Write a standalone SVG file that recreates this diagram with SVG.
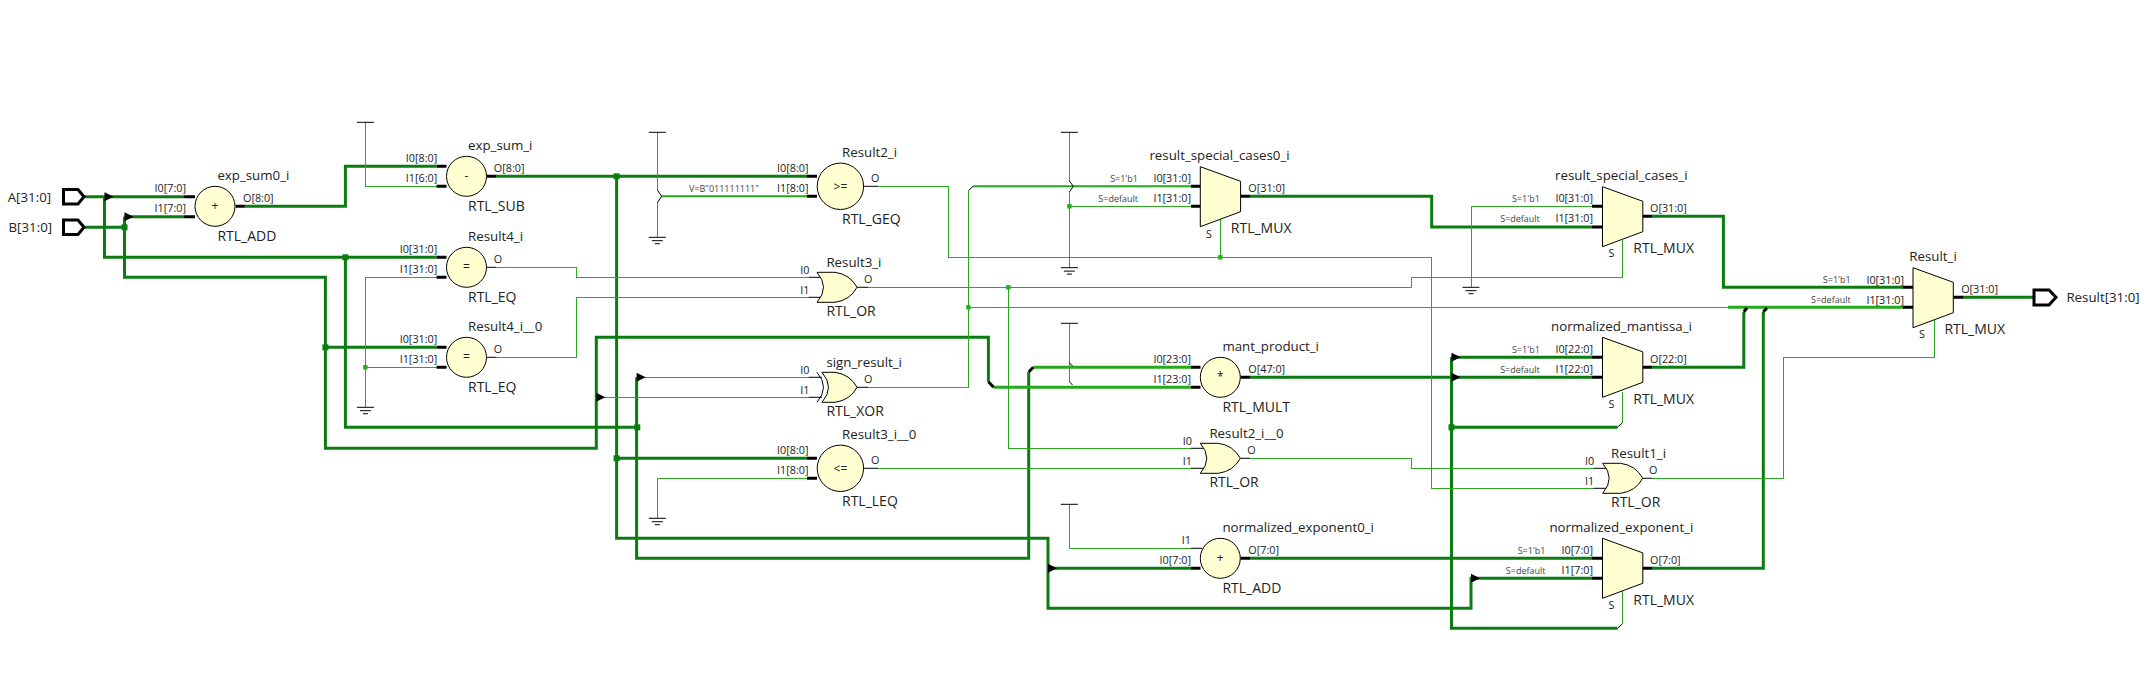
<svg xmlns="http://www.w3.org/2000/svg" width="2150" height="675" viewBox="0 0 2150 675">
<style>
text{font-family:"Open Sans","Noto Sans","Liberation Sans",sans-serif;fill:#222}
.n{font-size:13.3px}
.t{font-size:14px}
.p{font-size:10.8px}
.s{font-size:9px;fill:#444}
.e{font-size:12px;text-anchor:middle}
.r{text-anchor:end}
.w3,.w2,.w2b,.w1,.st,.st1,.tick{fill:none}
.w3{stroke:#0b7d10;stroke-width:3}
.w2{stroke:#25a81a;stroke-width:3}
.w2b{stroke:#25a81a;stroke-width:2}
.w1{stroke:#2ca820;stroke-width:1;shape-rendering:crispEdges}
.st{stroke:#000;stroke-width:3}
.st1{stroke:#000;stroke-width:1}
.tick{stroke:#000;stroke-width:1}
.b{fill:#ffffd2;stroke:#000;stroke-width:1}
.j3{fill:#0b7d10}
.j1{fill:#22b014}
.port{fill:#fff;stroke:#000;stroke-width:3}
</style>
<defs>
<path id="mux" d="M0 0L40.3 14.6V45L0 60Z"/>
<path id="or" d="M0 0H18Q33 2 40 15Q33 28 18 30H0Q13 15 0 0Z"/>
<path id="xor" d="M5 0H18Q33 2 40 15Q33 28 18 30H5Q18 15 5 0Z"/>
<path id="xorb" d="M0 0Q13 15 0 30" fill="none" stroke="#000"/>
<path id="arr" d="M0 -4.5L9 0L0 4.5Z" fill="#000"/>
<rect id="jt" x="-3" y="-3" width="6" height="6"/>
<rect id="jn" x="-2.2" y="-2.2" width="4.4" height="4.4"/>
<path id="vcc" d="M-8.5 0H8.5" stroke="#000" fill="none"/>
<path id="gnd" d="M-8.5 0H8.5M-5.5 3.4H5.5M-2.5 6.4H2.5" stroke="#000" fill="none"/>
</defs>

<g id="connectors">
<!-- thick dark nets -->
<path class="w3" d="M84 196.7H184M104.5 196.7V257.3H436.6M345.4 257.3V427.3H637.3M636.6 377.3V558.3H1028.7V372"/>
<path class="w3" d="M84 227.3H124.5M124.5 216.7H184M124.5 216.7V277.3H325.4V448.3H596.3V337.3H988.4V381.7M325.4 347.3H436.6"/>
<path class="w3" d="M244.8 206.3H345.4V166.3H436.6"/>
<path class="w3" d="M496 176.3H807M616.6 176.3V538.3H1048V608.3H1471V578.3H1592M616.6 458.3H807M1048 568.3H1191"/>
<path class="w3" d="M1250 196.3H1431.7V227H1592"/>
<path class="w3" d="M1651.9 216.3H1723.4V287.3H1902.6"/>
<path class="w3" d="M1250 377.3H1592M1451.5 357.3H1592M1451.5 357.3V628.3H1617.4M1451.5 427.3H1617.4"/>
<path class="w3" d="M1250 558.3H1592"/>
<path class="w3" d="M1651.8 367.3H1743.8V311.7M1651.8 568.3H1763.3V311.7"/>
<path class="w3" d="M1963.7 297.3H2033.8"/>
<!-- medium nets -->
<path class="w2b" d="M661.5 196.3H807"/>
<path class="w2b" d="M973 186.3H1191"/>
<path class="w2" d="M993.6 387.3H1191"/>
<path class="w2" d="M1033.3 367.3H1191"/>
<path class="w2" d="M1728 307.3H1902.6"/>
<!-- thin nets -->
<path class="w1" d="M365.4 122.3V186.3H436.6"/>
<path class="w1" d="M436.6 277.3H365.4V407.3M365.4 367.3H436.6"/>
<path class="w1" d="M657.3 132.3V190M657.3 203V237.3"/>
<path class="w1" d="M496 267.3H576.3V277.3H808.4"/>
<path class="w1" d="M496 357.3H576.3V297.3H808.4"/>
<path class="w1" d="M878 186.3H948.4V257.3H1431.7V488.3H1593.8"/>
<path class="w1" d="M1220.3 219.3V257.3"/>
<path class="w1" d="M868 287.3H1411.4V277.3H1622.6V240"/>
<path class="w1" d="M1008.3 287.3V448.3H1191"/>
<path class="w1" d="M636.6 377.3H808.4"/>
<path class="w1" d="M596.3 397.3H808.4"/>
<path class="w1" d="M868 387.3H968.4V190.7"/>
<path class="w1" d="M968.4 307.3H1728"/>
<path class="w1" d="M1069.4 132.3V181M1069.4 192V267.7M1069.4 206.3H1191"/>
<path class="w1" d="M1069.4 323.3V382"/>
<path class="w1" d="M657.3 518.3V478.3H807"/>
<path class="w1" d="M878 468.3H1191"/>
<path class="w1" d="M1250 458.3H1411.4V468.3H1593.8"/>
<path class="w1" d="M1069.4 504.3V548.3H1191"/>
<path class="w1" d="M1471 287.3V206.3H1592"/>
<path class="w1" d="M1652 478.3H1783.4V357.3H1934.6V320"/>
<path class="w1" d="M1622.3 423V391.7M1622.3 624V590.7"/>
<!-- chamfer ticks and crossing chevrons -->
<path class="st" d="M988.4 381.7L993.6 387.3M1028.7 372L1033.3 367.3M1743.8 311.7L1747 308M1763.3 311.7L1767 308"/>
<path class="tick" d="M657.3 190L661.7 196.3L657.3 203M1069.4 181L1073.3 186.3L1069.4 192M1069.4 362.7L1072.5 366M1069.4 381.7L1072.5 385M968.4 190.7L973 186.3M1617.3 427.3L1622.3 423M1617.3 628.3L1622.3 624"/>
<!-- branch junctions -->
<use href="#jt" class="j3" x="345.4" y="257.3"/>
<use href="#jt" class="j3" x="124.5" y="227.3"/>
<use href="#jt" class="j3" x="325.4" y="347.3"/>
<use href="#jt" class="j3" x="616.6" y="176.3"/>
<use href="#jt" class="j3" x="616.6" y="458.3"/>
<use href="#jt" class="j3" x="637.3" y="427.3"/>
<use href="#jt" class="j3" x="1451.5" y="427.3"/>
<use href="#jn" class="j1" x="365.4" y="367.3"/>
<use href="#jn" class="j1" x="968.4" y="307.3"/>
<use href="#jn" class="j1" x="1008.3" y="287.3"/>
<use href="#jn" class="j1" x="1069.4" y="206.3"/>
<use href="#jn" class="j1" x="1220.3" y="257.3"/>
<!-- arrow markers -->
<use href="#arr" x="104.5" y="196.7"/>
<use href="#arr" x="124.5" y="216.7"/>
<use href="#arr" x="596.3" y="397.3"/>
<use href="#arr" x="636.6" y="377.3"/>
<use href="#arr" x="1048" y="568.3"/>
<use href="#arr" x="1451.5" y="357.3"/>
<use href="#arr" x="1451.5" y="377.3"/>
<use href="#arr" x="1471" y="578.3"/>
</g>

<g id="port_A"><path class="port" d="M63.5 189.5H78L84 196.7L78 204H63.5Z"/><text class="n" x="7.7" y="201.5">A[31:0]</text></g>
<g id="port_B"><path class="port" d="M63.5 220H78L84 227.3L78 234.5H63.5Z"/><text class="n" x="8.5" y="232">B[31:0]</text></g>
<g id="port_Result"><path class="port" d="M2034 290H2049L2056 297.3L2049 305H2034Z"/><text class="n" x="2066.4" y="302">Result[31:0]</text></g>

<g id="pwr_1"><use href="#vcc" x="365.4" y="122.3"/></g>
<g id="gnd_1"><use href="#gnd" x="365.4" y="407.3"/></g>
<g id="pwr_2"><use href="#vcc" x="657.3" y="132.3"/></g>
<g id="gnd_2"><use href="#gnd" x="657.3" y="237.3"/></g>
<g id="pwr_3"><use href="#vcc" x="1069.4" y="132.3"/></g>
<g id="gnd_3"><use href="#gnd" x="1069.4" y="267.7"/></g>
<g id="pwr_4"><use href="#vcc" x="1069.4" y="323.3"/></g>
<g id="pwr_5"><use href="#vcc" x="1069.4" y="504.3"/></g>
<g id="gnd_4"><use href="#gnd" x="657.3" y="518.3"/></g>
<g id="gnd_5"><use href="#gnd" x="1471" y="287.3"/></g>

<g id="exp_sum0_i">
<path class="st" d="M184 196.7H195M184 216.7H195M235.6 206.3H244.8"/>
<circle class="b" cx="215" cy="206.3" r="20"/>
<text class="e" x="215" y="210">+</text>
<text class="n" x="217.4" y="180">exp_sum0_i</text><text class="t" x="217.4" y="240.5">RTL_ADD</text>
<text class="p r" x="186" y="192">I0[7:0]</text><text class="p r" x="186" y="212">I1[7:0]</text><text class="p" x="243" y="202">O[8:0]</text>
</g>
<g id="exp_sum_i">
<path class="st" d="M436.6 166.3H446.5M436.6 186.3H446.5M486.8 176.3H496"/>
<circle class="b" cx="466.5" cy="176.3" r="20"/>
<text class="e" x="466.5" y="180">-</text>
<text class="n" x="468" y="150">exp_sum_i</text><text class="t" x="468" y="211">RTL_SUB</text>
<text class="p r" x="437.3" y="162">I0[8:0]</text><text class="p r" x="437.3" y="182">I1[6:0]</text><text class="p" x="493.8" y="172">O[8:0]</text>
</g>
<g id="Result4_i">
<path class="st" d="M436.6 257.3H446.5M436.6 277.3H446.5"/><path class="st1" d="M486.8 267.3H496"/>
<circle class="b" cx="466.5" cy="267.3" r="20"/>
<text class="e" x="466.5" y="271">=</text>
<text class="n" x="468" y="240.5">Result4_i</text><text class="t" x="468" y="302">RTL_EQ</text>
<text class="p r" x="437.3" y="253">I0[31:0]</text><text class="p r" x="437.3" y="273">I1[31:0]</text><text class="p" x="493.8" y="263">O</text>
</g>
<g id="Result4_i__0">
<path class="st" d="M436.6 347.3H446.5M436.6 367.3H446.5"/><path class="st1" d="M486.8 357.3H496"/>
<circle class="b" cx="466.5" cy="357.3" r="20"/>
<text class="e" x="466.5" y="361">=</text>
<text class="n" x="468" y="330.5">Result4_i__0</text><text class="t" x="468" y="392">RTL_EQ</text>
<text class="p r" x="437.3" y="343">I0[31:0]</text><text class="p r" x="437.3" y="363">I1[31:0]</text><text class="p" x="493.8" y="353">O</text>
</g>
<g id="Result2_i">
<path class="st" d="M807 176.3H817M807 196.3H817"/><path class="st1" d="M863 186.3H878"/>
<circle class="b" cx="840.4" cy="186.3" r="23.2"/>
<text class="e" x="840.4" y="190.5">&gt;=</text>
<text class="n" x="842" y="157">Result2_i</text><text class="t" x="842" y="224">RTL_GEQ</text>
<text class="p r" x="808.5" y="172">I0[8:0]</text><text class="p r" x="808.5" y="192">I1[8:0]</text><text class="p" x="870.9" y="182">O</text>
<text class="s" x="689" y="191.5">V=B"011111111"</text>
</g>
<g id="Result3_i">
<path class="st1" d="M808.4 277.3H822M808.4 297.3H822M857 287.3H868"/>
<use href="#or" class="b" x="817" y="272.3"/>
<text class="n" x="826.4" y="267">Result3_i</text><text class="t" x="826.4" y="316">RTL_OR</text>
<text class="p r" x="809.5" y="273.5">I0</text><text class="p r" x="809.5" y="293.5">I1</text><text class="p" x="863.9" y="283">O</text>
</g>
<g id="sign_result_i">
<path class="st1" d="M808.4 377.3H822M808.4 397.3H822M857 387.3H868"/>
<use href="#xor" class="b" x="817" y="372.3"/><use href="#xorb" x="817" y="372.3"/>
<text class="n" x="826.4" y="367">sign_result_i</text><text class="t" x="826.4" y="416">RTL_XOR</text>
<text class="p r" x="809.5" y="373.5">I0</text><text class="p r" x="809.5" y="393.5">I1</text><text class="p" x="863.9" y="383">O</text>
</g>
<g id="Result3_i__0">
<path class="st" d="M807 458.3H817M807 478.3H817"/><path class="st1" d="M863 468.3H878"/>
<circle class="b" cx="840.4" cy="468.3" r="23.2"/>
<text class="e" x="840.4" y="472.5">&lt;=</text>
<text class="n" x="842" y="438.5">Result3_i__0</text><text class="t" x="842" y="506">RTL_LEQ</text>
<text class="p r" x="808.5" y="454">I0[8:0]</text><text class="p r" x="808.5" y="474">I1[8:0]</text><text class="p" x="870.9" y="464">O</text>
</g>
<g id="result_special_cases0_i">
<path class="st" d="M1191 186.3H1200.5M1191 206.3H1200.5M1240.5 196.3H1250"/>
<use href="#mux" class="b" x="1200.3" y="166.7"/>
<text class="n" x="1149.4" y="160">result_special_cases0_i</text><text class="t" x="1230.8" y="233">RTL_MUX</text>
<text class="p r" x="1191" y="182.3">I0[31:0]</text><text class="p r" x="1191" y="202.3">I1[31:0]</text><text class="p" x="1248.3" y="192">O[31:0]</text>
<text class="p" x="1206" y="237.5">S</text>
<text class="s r" x="1138" y="182">S=1'b1</text><text class="s r" x="1138" y="202">S=default</text>
</g>
<g id="mant_product_i">
<path class="st" d="M1191 367.3H1200.5M1191 387.3H1200.5M1240.5 377.3H1250"/>
<circle class="b" cx="1220.3" cy="377.3" r="20"/>
<text class="e" x="1220.3" y="381">*</text>
<text class="n" x="1222.4" y="351">mant_product_i</text><text class="t" x="1222.4" y="412">RTL_MULT</text>
<text class="p r" x="1191" y="363">I0[23:0]</text><text class="p r" x="1191" y="383">I1[23:0]</text><text class="p" x="1248.3" y="373">O[47:0]</text>
</g>
<g id="Result2_i__0">
<path class="st1" d="M1191 448.3H1205M1191 468.3H1205M1240.3 458.3H1250"/>
<use href="#or" class="b" x="1200.3" y="443.3"/>
<text class="n" x="1209.4" y="438">Result2_i__0</text><text class="t" x="1209.4" y="487">RTL_OR</text>
<text class="p r" x="1192" y="444.5">I0</text><text class="p r" x="1192" y="464.5">I1</text><text class="p" x="1247.3" y="454">O</text>
</g>
<g id="normalized_exponent0_i">
<path class="st1" d="M1191 548.3H1202"/><path class="st" d="M1191 568.3H1200.5M1240.5 558.3H1250"/>
<circle class="b" cx="1220.3" cy="558.3" r="20"/>
<text class="e" x="1220.3" y="562">+</text>
<text class="n" x="1222.4" y="532">normalized_exponent0_i</text><text class="t" x="1222.4" y="592.5">RTL_ADD</text>
<text class="p r" x="1191" y="544">I1</text><text class="p r" x="1191" y="564">I0[7:0]</text><text class="p" x="1248.3" y="554">O[7:0]</text>
</g>
<g id="result_special_cases_i">
<path class="st" d="M1592 206.3H1602.7M1592 227H1602.7M1642.8 216.3H1652"/>
<use href="#mux" class="b" x="1602.5" y="186.7"/>
<text class="n" x="1555" y="180">result_special_cases_i</text><text class="t" x="1633.3" y="253">RTL_MUX</text>
<text class="p r" x="1593" y="202.3">I0[31:0]</text><text class="p r" x="1593" y="222.3">I1[31:0]</text><text class="p" x="1650" y="212">O[31:0]</text>
<text class="p" x="1608.5" y="257">S</text>
<text class="s r" x="1539.8" y="202">S=1'b1</text><text class="s r" x="1539.8" y="222">S=default</text>
</g>
<g id="normalized_mantissa_i">
<path class="st" d="M1592 357.3H1602.7M1592 377.3H1602.7M1642.8 367.3H1652"/>
<use href="#mux" class="b" x="1602.5" y="337.3"/>
<text class="n" x="1551" y="331">normalized_mantissa_i</text><text class="t" x="1633.3" y="403.5">RTL_MUX</text>
<text class="p r" x="1593" y="353">I0[22:0]</text><text class="p r" x="1593" y="373">I1[22:0]</text><text class="p" x="1650" y="363">O[22:0]</text>
<text class="p" x="1608.5" y="408">S</text>
<text class="s r" x="1539.8" y="353">S=1'b1</text><text class="s r" x="1539.8" y="373">S=default</text>
</g>
<g id="Result1_i">
<path class="st1" d="M1593.8 468.3H1607.5M1593.8 488.3H1607.5M1642.7 478.3H1652"/>
<use href="#or" class="b" x="1602.7" y="463.3"/>
<text class="n" x="1611" y="458">Result1_i</text><text class="t" x="1611" y="507">RTL_OR</text>
<text class="p r" x="1594.3" y="464.5">I0</text><text class="p r" x="1594.3" y="484.5">I1</text><text class="p" x="1649" y="474">O</text>
</g>
<g id="normalized_exponent_i">
<path class="st" d="M1592 558.3H1602.7M1592 578.3H1602.7M1642.8 568.3H1652"/>
<use href="#mux" class="b" x="1602.5" y="538.3"/>
<text class="n" x="1549.4" y="532">normalized_exponent_i</text><text class="t" x="1633.3" y="605">RTL_MUX</text>
<text class="p r" x="1593" y="554">I0[7:0]</text><text class="p r" x="1593" y="574">I1[7:0]</text><text class="p" x="1650" y="564">O[7:0]</text>
<text class="p" x="1608.5" y="609">S</text>
<text class="s r" x="1545.5" y="554">S=1'b1</text><text class="s r" x="1545.5" y="574">S=default</text>
</g>
<g id="Result_i">
<path class="st" d="M1902.6 287.3H1913M1902.6 307.3H1913M1953.5 297.3H1963.7"/>
<use href="#mux" class="b" x="1913" y="267.7"/>
<text class="n" x="1909.3" y="260.5">Result_i</text><text class="t" x="1944.4" y="333.5">RTL_MUX</text>
<text class="p r" x="1904" y="283.5">I0[31:0]</text><text class="p r" x="1904" y="303.5">I1[31:0]</text><text class="p" x="1961.2" y="293">O[31:0]</text>
<text class="p" x="1919" y="338">S</text>
<text class="s r" x="1850.7" y="283">S=1'b1</text><text class="s r" x="1850.7" y="303">S=default</text>
</g>
</svg>
